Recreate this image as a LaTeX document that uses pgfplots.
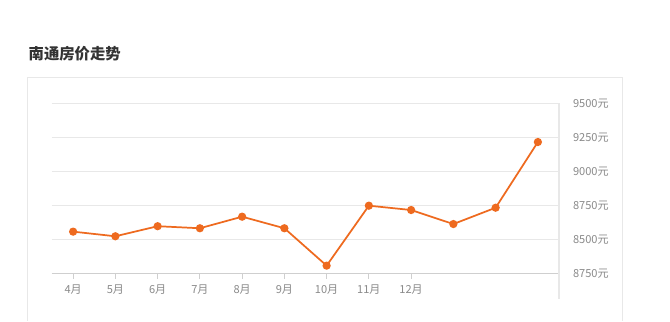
\documentclass[border=0pt]{standalone}
\usepackage{pgfplots}
\pgfplotsset{compat=1.18}
\usepackage{fontspec}
\setmainfont{Noto Sans CJK SC}
\definecolor{lineor}{HTML}{EE6A1F}
\definecolor{txtgray}{HTML}{8A8A8A}
\definecolor{gridc}{HTML}{E8E8E8}
\definecolor{axc}{HTML}{CFCFCF}
\begin{document}
\begin{tikzpicture}[x=0.75pt,y=0.75pt]
\useasboundingbox (0,0) rectangle (670,321);
\fill[white] (0,0) rectangle (670,321);
% outer panel frame
\draw[gridc, line width=0.75pt] (27,0) -- (27,243) -- (622,243) -- (622,0);
% title
\node[anchor=west, font=\bfseries\fontsize{11.5pt}{12pt}\selectfont, text=black!80] at (24,267) {南通房价走势};
\begin{axis}[
  at={(39pt,35.8pt)}, anchor=south west,
  scale only axis,
  width=380.25pt, height=127.5pt,
  xmin=-0.5, xmax=11.5,
  ymin=8250, ymax=9500,
  axis line style={draw=none},
  xtick={0,1,2,3,4,5,6,7,8},
  xticklabels={4月,5月,6月,7月,8月,9月,10月,11月,12月},
  ytick={8250,8500,8750,9000,9250,9500},
  yticklabels={8750元,8500元,8750元,9000元,9250元,9500元},
  ytick pos=right, yticklabel pos=right,
  xtick pos=bottom,
  ymajorgrids, grid style={gridc, line width=0.8pt},
  tick align=outside,
  major tick length=4pt,
  xtick style={axc, line width=0.6pt},
  ytick style={draw=none},
  tick label style={font=\fontsize{8.3pt}{9pt}\selectfont, text=txtgray},
  yticklabel style={xshift=3pt},
  xticklabel style={yshift=-1pt},
  clip=false,
]
\addplot[lineor, line width=1.3pt, mark=*, mark size=2.4pt, mark options={fill=lineor, draw=lineor}]
coordinates {
(0,8556) (1,8522) (2,8596) (3,8581) (4,8666) (5,8581)
(6,8306) (7,8747) (8,8715) (9,8612) (10,8732) (11,9215)
};
\draw[axc, line width=0.8pt] (rel axis cs:0,0) -- (rel axis cs:1,0);
\draw[gridc, line width=0.8pt] (rel axis cs:1,1) -- ([yshift=-19pt]rel axis cs:1,0);
\end{axis}
\end{tikzpicture}
\end{document}
